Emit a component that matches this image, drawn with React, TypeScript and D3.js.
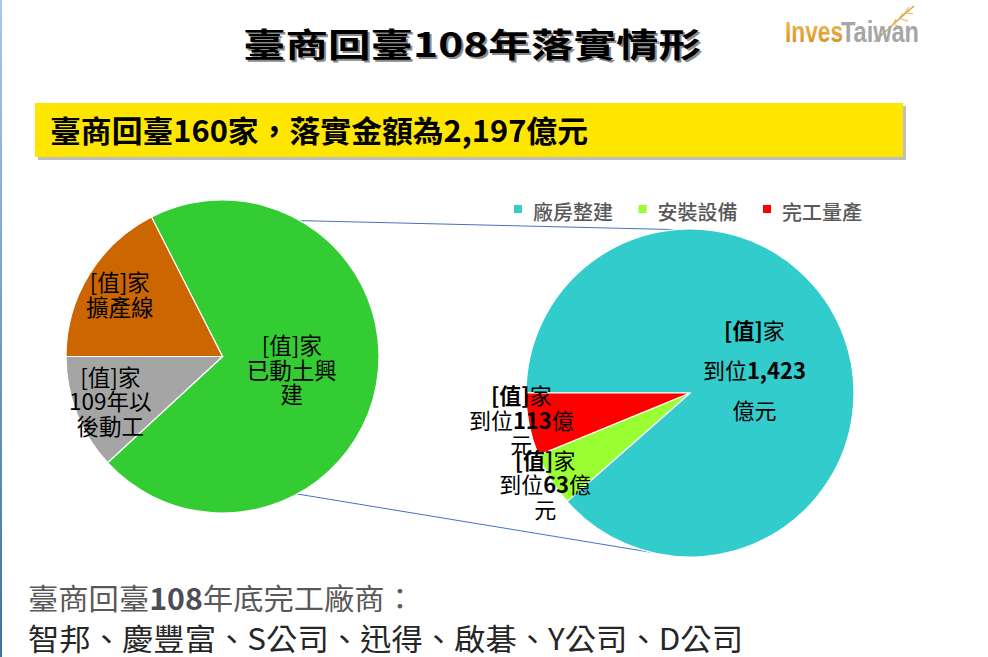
import React from 'react';
import * as d3 from 'd3';

const leftCategories = ['已動土興建', '109年以後動工', '擴產線'];
const leftValues = [113, 19, 28];
const leftLabelLines = [['[值]家', '已動土興', '建'], ['[值]家', '109年以', '後動工'], ['[值]家', '擴產線']];
const leftColors = ['#33CC33', '#A5A5A5', '#CC6600'];

const rightCategories = ['廠房整建', '安裝設備', '完工量產'];
const rightValues = [100, 6, 7];
const rightAmounts = ['1,423', '63', '113'];
const rightColors = ['#33CCCC', '#99FF33', '#FF0000'];

const titleText = '臺商回臺108年落實情形';
const bannerText = '臺商回臺160家，落實金額為2,197億元';
const footLine1 = ['臺商回臺', '108', '年底完工廠商：'];
const footLine2 = '智邦、慶豐富、S公司、迅得、啟碁、Y公司、D公司';

const FONT = '"Noto Sans CJK TC", "Noto Sans", sans-serif';

function rightLines(i: number): string[] {
  if (i === 0) return ['[值]家', `到位${rightAmounts[i]}`, '億元'];
  return ['[值]家', `到位${rightAmounts[i]}億`, '元'];
}

function boldParts(s: string) {
  const parts = s.split(/(\[值\]|[\d,]+)/).filter((p) => p.length);
  return parts.map((p, k) => (
    <tspan key={k} fontWeight={/^(\[值\]|[\d,]+)$/.test(p) ? 700 : 400}>{p}</tspan>
  ));
}

export default function App() {
  const W = 988, H = 657;
  const L = { cx: 222.5, cy: 356.5, r: 156.5 };
  const R = { cx: 690, cy: 393, r: 164 };
  const deg = Math.PI / 180;

  const leftStart = -27 * deg;
  const leftPie = d3.pie<number>().sort(null).startAngle(leftStart).endAngle(leftStart + 2 * Math.PI)(leftValues);
  const rightPie = d3.pie<number>().sort(null).startAngle(-Math.PI / 2).endAngle(1.5 * Math.PI)(rightValues);

  const leftArc = d3.arc<d3.PieArcDatum<number>>().innerRadius(0).outerRadius(L.r);
  const rightArc = d3.arc<d3.PieArcDatum<number>>().innerRadius(0).outerRadius(R.r);

  const pt = (c: { cx: number; cy: number }, r: number, a: number) => [c.cx + r * Math.sin(a), c.cy - r * Math.cos(a)];

  const leftLabelR = [0.45, 0.77, 0.77];
  const rightLabelR = [0.42, 1.04, 1.04];
  const rightLabelShift = [0, 0, 2.5];
  const leftMid = (d: d3.PieArcDatum<number>) => (d.startAngle + d.endAngle) / 2;

  const g = leftPie[0];
  const topStart = pt(L, L.r, g.startAngle);
  const botStart = pt(L, L.r, g.endAngle);
  const topEnd = pt(R, R.r, -5 * deg);
  const botEnd = pt(R, R.r, 185 * deg);

  return (
    <svg width={W} height={H} style={{ position: 'absolute', left: 0, top: 0, background: '#fff' }} fontFamily={FONT}>
      <defs>
        <linearGradient id="edge" x1="0" y1="0" x2="0" y2="1">
          <stop offset="0" stopColor="#a9c8ea" />
          <stop offset="1" stopColor="#3f6fa8" />
        </linearGradient>
        <linearGradient id="gold" x1="0" y1="0" x2="0" y2="1">
          <stop offset="0" stopColor="#f6c45a" />
          <stop offset="1" stopColor="#d08a1e" />
        </linearGradient>
      </defs>
      <rect x={0} y={0} width={W} height={H} fill="#fff" />
      <rect x={0} y={0} width={2} height={H} fill="url(#edge)" />

      {/* Title */}
      <text x={245} y={59} fontSize={33} fontWeight={700} fill="#8c8c8c" textLength={458} lengthAdjust="spacingAndGlyphs">{titleText}</text>
      <text x={243} y={57} fontSize={33} fontWeight={700} fill="#000" textLength={458} lengthAdjust="spacingAndGlyphs">{titleText}</text>

      {/* Logo */}
      <path d="M874,42 C887,30 900,18 914,6" stroke="#d9a441" strokeWidth={1.5} fill="none" />
      <path d="M898,20 l5,-7 M904,14 l5,-7 M892,26 l4,-7 M901,19 l7,2 M907,13 l6,1 M895,25 l7,2" stroke="#e3b560" strokeWidth={1.2} fill="none" />
      <text x={785} y={42} fontFamily='"Liberation Sans", Arial, sans-serif' fontSize={29} fontWeight={700} fill="url(#gold)" textLength={58} lengthAdjust="spacingAndGlyphs">Inves</text>
      <text x={841} y={42} fontFamily='"Liberation Sans", Arial, sans-serif' fontSize={29} fontWeight={700} fill="#a6a6a6" textLength={78} lengthAdjust="spacingAndGlyphs">Taiwan</text>

      {/* Banner */}
      <rect x={38} y={106} width={868} height={54} fill="#bfbfbf" />
      <rect x={35} y={103} width={868} height={54} fill="#FFE600" />
      <text x={50} y={142} fontSize={30} fontWeight={700} fill="#000" textLength={538} lengthAdjust="spacingAndGlyphs">{bannerText}</text>

      {/* Connector lines */}
      <line x1={topStart[0]} y1={topStart[1]} x2={topEnd[0]} y2={topEnd[1]} stroke="#4472C4" strokeWidth={1} />
      <line x1={botStart[0]} y1={botStart[1]} x2={botEnd[0]} y2={botEnd[1]} stroke="#4472C4" strokeWidth={1} />

      {/* Left pie */}
      <g transform={`translate(${L.cx},${L.cy})`}>
        {leftPie.map((d, i) => (
          <path key={leftCategories[i]} d={leftArc(d) || ''} fill={leftColors[i]} stroke="#fff" strokeWidth={1.2} />
        ))}
      </g>
      {leftPie.map((d, i) => {
        const [x, y] = pt(L, L.r * leftLabelR[i], leftMid(d));
        const lines = leftLabelLines[i];
        const lh = 24.5;
        return (
          <text key={'ll' + i} x={x} y={y} fontSize={22.5} textAnchor="middle" fill="#000">
            {lines.map((s, k) => (
              <tspan key={k} x={x} y={y + (k - (lines.length - 1) / 2) * lh} dominantBaseline="central">{s}</tspan>
            ))}
          </text>
        );
      })}

      {/* Right pie */}
      <g transform={`translate(${R.cx},${R.cy})`}>
        {rightPie.map((d, i) => (
          <path key={rightCategories[i]} d={rightArc(d) || ''} fill={rightColors[i]} stroke="#fff" strokeWidth={1.2} />
        ))}
      </g>
      {rightPie.map((d, i) => {
        const mid = (d.startAngle + d.endAngle) / 2;
        const [x, y] = pt(R, R.r * rightLabelR[i], mid + rightLabelShift[i] * deg);
        const lines = rightLines(i);
        const lh = i === 0 ? 40 : 24.5;
        return (
          <text key={'rl' + i} x={x} y={y} fontSize={22} textAnchor="middle" fill="#000">
            {lines.map((s, k) => (
              <tspan key={k} x={x} y={y + (k - (lines.length - 1) / 2) * lh} dominantBaseline="central">{boldParts(s)}</tspan>
            ))}
          </text>
        );
      })}

      {/* Legend */}
      {rightCategories.map((c, i) => {
        const x0 = 514 + i * 124.5;
        return (
          <g key={'lg' + i}>
            <rect x={x0} y={205} width={8} height={8} fill={rightColors[i]} />
            <text x={x0 + 19} y={220} fontSize={20} fontWeight={500} fill="#595959">{c}</text>
          </g>
        );
      })}

      {/* Footer */}
      <text x={28} y={610} fontSize={29} fill="#595959" textLength={387} lengthAdjust="spacingAndGlyphs">
        <tspan>{footLine1[0]}</tspan>
        <tspan fontWeight={700} fill="#4d4d5a">{footLine1[1]}</tspan>
        <tspan>{footLine1[2]}</tspan>
      </text>
      <text x={28} y={650} fontSize={30} fill="#262626" textLength={715} lengthAdjust="spacingAndGlyphs">{footLine2}</text>
    </svg>
  );
}
